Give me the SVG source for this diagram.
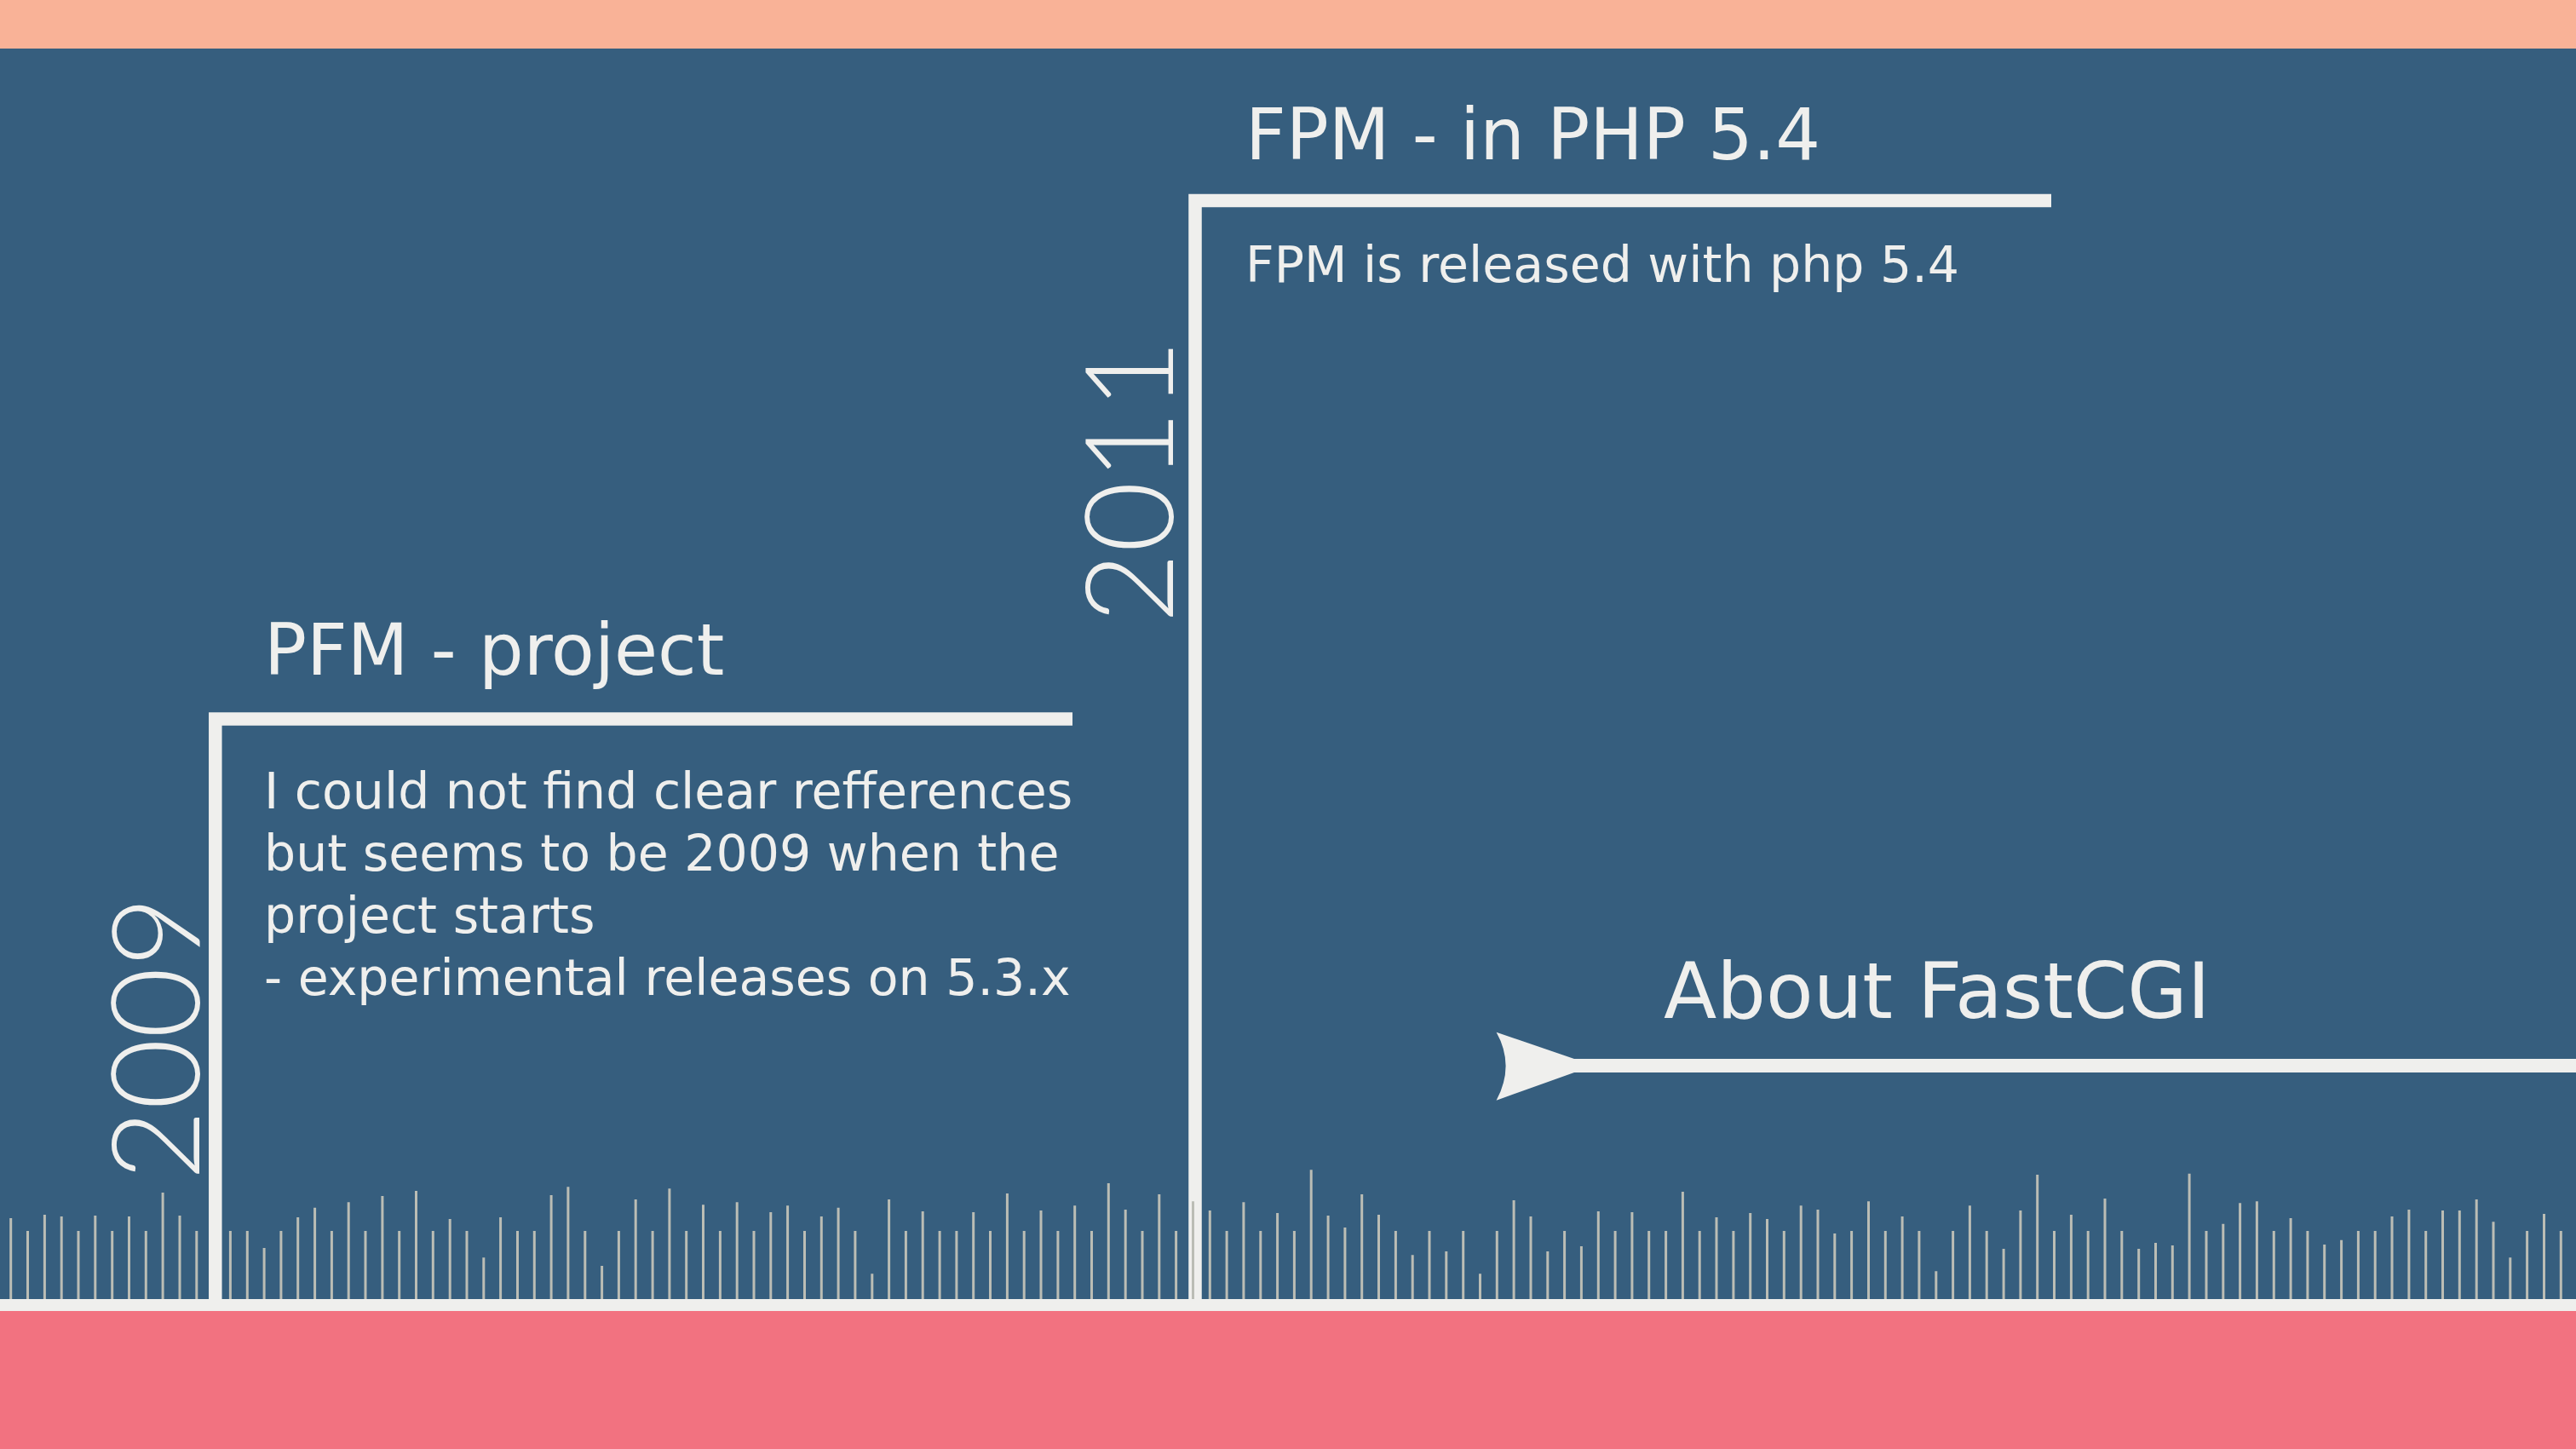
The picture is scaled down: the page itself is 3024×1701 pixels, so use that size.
<svg xmlns="http://www.w3.org/2000/svg" width="3024" height="1701" viewBox="0 0 3024 1701">
<style>
.bar{stroke:#EFEFED;stroke-width:15.5;fill:none}
.title{font-family:"DejaVu Sans",sans-serif;font-size:83px;fill:#EFEFED}
.body{font-family:"DejaVu Sans",sans-serif;font-size:58.5px;fill:#EFEFED}
.year{font-family:Lato,"DejaVu Sans",sans-serif;font-weight:300;font-size:144px;fill:#EFEFED}
.tick{stroke:#BBBDB5;stroke-width:3;fill:none}
</style>
<rect x="0" y="0" width="3024" height="1701" fill="#365E7E"/>
<rect x="0" y="0" width="3024" height="57" fill="#F9B297"/>
<rect x="0" y="1525" width="3024" height="14" fill="#EFEFED"/>
<rect x="0" y="1539" width="3024" height="162" fill="#F27280"/>
<g id="node-pfm">
<path class="bar" d="M252.8,1525 V844 H1259"/>
<text class="title" x="310" y="792">PFM - project</text>
<text class="body" x="310" y="949">I could not find clear refferences</text>
<text class="body" x="310" y="1022">but seems to be 2009 when the</text>
<text class="body" x="310" y="1095">project starts</text>
<text class="body" x="310" y="1168">- experimental releases on 5.3.x</text>
<text class="year" transform="translate(234,1386) rotate(-90)">2009</text>
</g>
<g id="node-fpm">
<path class="bar" d="M1403,1525 V235.5 H2408"/>
<text class="title" x="1462" y="187">FPM - in PHP 5.4</text>
<text class="body" x="1462" y="331">FPM is released with php 5.4</text>
<text class="year" transform="translate(1377,732) rotate(-90)">2011</text>
</g>
<g id="node-fastcgi">
<text class="title" x="1953" y="1195" style="font-size:91px">About FastCGI</text>
</g>
<g id="connectors">
<path d="M1846,1251 H3024" stroke="#EFEFED" stroke-width="16" fill="none"/>
<path d="M1848,1243 L1756.6,1211.7 Q1778.6,1251 1756.6,1291.7 L1848,1259 Z" fill="#EFEFED"/>
</g>
<g id="ticks">
<path class="tick" d="M12.7,1525V1430M32.5,1525V1445M52.4,1525V1426M72.2,1525V1428M92,1525V1445M111.8,1525V1427M131.7,1525V1445M151.5,1525V1428M171.3,1525V1445M191.1,1525V1400M211,1525V1427M230.8,1525V1445M270.4,1525V1445M290.3,1525V1445M310.1,1525V1465M329.9,1525V1445M349.7,1525V1429M369.6,1525V1417.7M389.4,1525V1445M409.2,1525V1411.3M429,1525V1445M448.9,1525V1404M468.7,1525V1445M488.5,1525V1398
M508.3,1525V1445M528.2,1525V1431M548,1525V1445M567.8,1525V1476.3M587.6,1525V1429M607.5,1525V1445M627.3,1525V1445M647.1,1525V1403M666.9,1525V1393.3M686.8,1525V1445M706.6,1525V1486M726.4,1525V1445M746.2,1525V1408M766.1,1525V1445M785.9,1525V1395.3M805.7,1525V1445M825.5,1525V1414.3M845.4,1525V1445M865.2,1525V1411.3M885,1525V1445M904.8,1525V1423M924.6,1525V1415.3M944.5,1525V1445M964.3,1525V1428M984.1,1525V1417.7
M1003.9,1525V1445M1023.8,1525V1495.3M1043.6,1525V1408M1063.4,1525V1445M1083.2,1525V1422M1103.1,1525V1445M1122.9,1525V1445M1142.7,1525V1423M1162.5,1525V1445M1182.4,1525V1401M1202.2,1525V1445M1222,1525V1421M1241.9,1525V1445M1261.7,1525V1415.3M1281.5,1525V1445M1301.3,1525V1389M1321.2,1525V1420M1341,1525V1445M1360.8,1525V1402M1380.6,1525V1445M1400.5,1525V1410.3M1420.3,1525V1421M1440.1,1525V1445M1459.9,1525V1411.3M1479.8,1525V1445
M1499.6,1525V1424M1519.4,1525V1445M1539.2,1525V1373.3M1559.1,1525V1427M1578.9,1525V1441M1598.7,1525V1402M1618.5,1525V1426M1638.4,1525V1445M1658.2,1525V1473.3M1678,1525V1445M1697.8,1525V1469M1717.7,1525V1445M1737.5,1525V1495.3M1757.3,1525V1445M1777.1,1525V1409M1797,1525V1428M1816.8,1525V1469M1836.6,1525V1445M1856.4,1525V1463M1876.3,1525V1422M1896.1,1525V1445M1915.9,1525V1423M1935.7,1525V1445M1955.6,1525V1445M1975.4,1525V1399
M1995.2,1525V1445M2015,1525V1429M2034.9,1525V1445M2054.7,1525V1424M2074.5,1525V1431M2094.3,1525V1445M2114.2,1525V1415.3M2134,1525V1420M2153.8,1525V1448M2173.6,1525V1445M2193.5,1525V1410.3M2213.3,1525V1445M2233.1,1525V1428M2252.9,1525V1445M2272.8,1525V1492.3M2292.6,1525V1445M2312.4,1525V1415.3M2332.2,1525V1445M2352.1,1525V1466M2371.9,1525V1421M2391.7,1525V1379M2411.5,1525V1445M2431.4,1525V1426M2451.2,1525V1445M2471,1525V1407M2490.8,1525V1445
M2510.7,1525V1466M2530.5,1525V1459M2550.3,1525V1462M2570.1,1525V1377.7M2590,1525V1445M2609.8,1525V1436.7M2629.6,1525V1412.3M2649.4,1525V1410.3M2669.3,1525V1445M2689.1,1525V1430M2708.9,1525V1445M2728.7,1525V1461M2748.6,1525V1455.7M2768.4,1525V1445M2788.2,1525V1445M2808,1525V1428M2827.9,1525V1420M2847.7,1525V1445M2867.5,1525V1421M2887.3,1525V1421M2907.2,1525V1408M2927,1525V1434.3M2946.8,1525V1476.3M2966.6,1525V1445M2986.5,1525V1425M3006.3,1525V1445"/>
</g>
</svg>
